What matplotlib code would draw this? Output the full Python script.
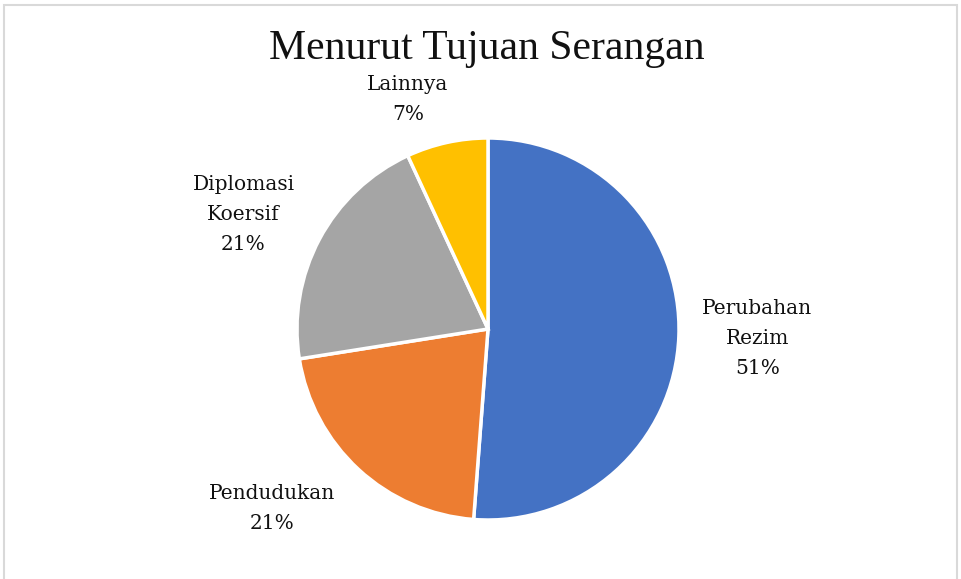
import matplotlib
matplotlib.use("Agg")
import matplotlib.pyplot as plt
from matplotlib.patches import Rectangle

# data
categories = ["Perubahan\nRezim", "Pendudukan", "Diplomasi\nKoersif", "Lainnya"]
values = [51.2, 21.3, 20.6, 6.9]
colors = ["#4472C4", "#ED7D31", "#A5A5A5", "#FFC000"]
title = "Menurut Tujuan Serangan"

# label spots (in pie radius units)
label_xy = [(1.41, -0.05), (-1.13, -0.94), (-1.28, 0.60), (-0.42, 1.20)]

W, H = 961, 579
fig = plt.figure(figsize=(W / 100, H / 100), dpi=100)

# pie centre at (488, 329) px from top-left, radius ~191 px
cx, cy, r = 488, 329, 191
ax = fig.add_axes([(cx - r) / W, (H - cy - r) / H, 2 * r / W, 2 * r / H])

wedges, _ = ax.pie(values, colors=colors, startangle=90, counterclock=False,
                   radius=1, wedgeprops=dict(edgecolor="white", linewidth=2.5))
ax.set_xlim(-1, 1)
ax.set_ylim(-1, 1)
ax.set_aspect("equal")
ax.axis("off")

total = sum(values)
for cat, v, (lx, ly) in zip(categories, values, label_xy):
    ax.text(lx, ly, f"{cat}\n{v / total * 100:.0f}%", ha="center", va="center",
            fontsize=14.5, family="DejaVu Serif", linespacing=1.75, color="#111111")

fig.text(487 / W, 1 - 49 / H, title, ha="center", va="center",
         fontsize=30, family="Liberation Serif", color="#111111")

# light chart-area frame
fig.patches.append(Rectangle((4 / W, -0.05), 953 / W, 1.05 - 5 / H,
                             transform=fig.transFigure, fill=False,
                             edgecolor="#d9d9d9", linewidth=1.5))

fig.savefig("out.png", dpi=100)
